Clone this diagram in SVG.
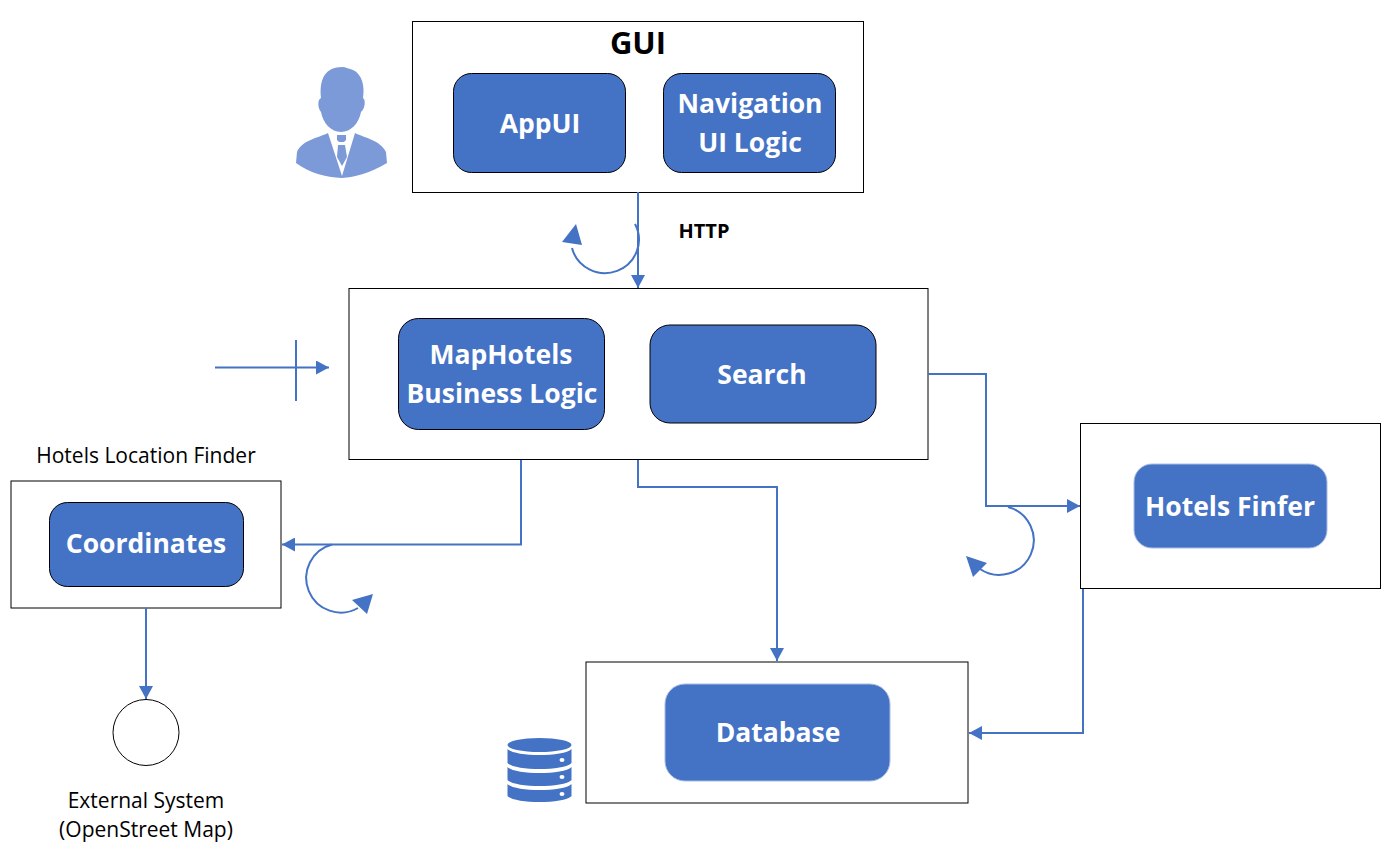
<svg xmlns="http://www.w3.org/2000/svg" width="1390" height="865" viewBox="0 0 1390 865">
<defs>
<marker id="a" markerUnits="userSpaceOnUse" markerWidth="14" markerHeight="14" refX="13" refY="7" orient="auto"><path d="M0 0L13 7L0 14Z" fill="#4472c4"/></marker>
</defs>
<style>
.box{fill:#fff;stroke:#000;stroke-width:1}
.in{fill:#4472c4;stroke:#000;stroke-width:1}
.in2{fill:#4472c4;stroke:#a9bde3;stroke-width:1}
.t{font-family:"Open Sans","Noto Sans",sans-serif;font-weight:700;font-size:26.500px;fill:#fff;text-anchor:middle}
.l{font-family:"Open Sans","Noto Sans",sans-serif;font-size:21px;fill:#000;text-anchor:middle}
.c{fill:none;stroke:#4472c4;stroke-width:2}
.ce{fill:#4472c4}
</style>
<rect width="1390" height="865" fill="#fff"/>
<g id="gui"><rect class="box" x="412.500" y="21.500" width="451" height="171"/><text x="638" y="54" font-family="'Open Sans','Noto Sans',sans-serif" font-weight="700" font-size="31" text-anchor="middle">GUI</text></g>
<g id="appui"><rect class="in" x="453.500" y="73.500" width="172" height="99" rx="18"/><text class="t" x="540" y="133">AppUI</text></g>
<g id="nav"><rect class="in" x="663.500" y="73.500" width="172" height="99" rx="18"/><text class="t" x="750" y="113">Navigation</text><text class="t" x="750" y="152">UI Logic</text></g>
<g id="user" fill="#7c9ad8">
<path d="M321 98C319 78 326 67 342 67C346 67 349 69 353 70C362 74 365 86 363 98C366 100 365 109 361 112C359 123 351 132 341 132C331 132 323 123 321 112C318 109 317 100 321 98Z"/>
<path d="M328 133L342 176L355 133C365 138 380 140 386 152L387 163C370 173 355 177 342 178C325 177 310 173 296 163L297 152C302 140 318 138 328 133Z"/>
<path d="M337 135H346V140L344 142H339L337 140Z"/>
<path d="M338 145H345L347 157L342 166L337 157Z"/>
</g>
<g id="logic"><rect class="box" x="349" y="288.500" width="579" height="171"/></g>
<g id="maphotels"><rect class="in" x="398.500" y="318.500" width="206" height="111" rx="20"/><text class="t" x="501" y="364">MapHotels</text><text class="t" x="502" y="403">Business Logic</text></g>
<g id="search"><rect class="in" x="650" y="325" width="226" height="98" rx="20"/><text class="t" x="762" y="384">Search</text></g>
<g id="finder-label"><text class="l" x="146" y="463">Hotels Location Finder</text></g>
<g id="locfinder"><rect class="box" x="11" y="481" width="270" height="127"/></g>
<g id="coordinates"><rect class="in" x="49.500" y="502.500" width="194" height="84" rx="18"/><text class="t" x="146" y="553">Coordinates</text></g>
<g id="hotelsbox"><rect class="box" x="1080.500" y="423.500" width="300" height="165"/></g>
<g id="hotels"><rect class="in2" x="1134" y="464" width="193" height="84" rx="18"/><text class="t" x="1230" y="516">Hotels Finfer</text></g>
<g id="dbbox"><rect class="box" x="586" y="662" width="382" height="141"/></g>
<g id="database"><rect class="in2" x="665" y="684" width="225" height="97" rx="20"/><text class="t" x="778" y="742">Database</text></g>
<g id="dbicon" fill="#4472c4">
<ellipse cx="539.500" cy="745" rx="32" ry="7"/>
<path d="M507.500 749C515 757 564 757 571.500 749V763C564 771 515 771 507.500 763Z"/>
<path d="M507.500 767C515 775 564 775 571.500 767V780C564 788 515 788 507.500 780Z"/>
<path d="M507.500 784C515 792 564 792 571.500 784V796C564 804 515 804 507.500 796Z"/>
<g fill="#fff"><ellipse cx="562" cy="760" rx="2.500" ry="2"/><ellipse cx="562" cy="777" rx="2.500" ry="2"/><ellipse cx="562" cy="794" rx="2.500" ry="2"/></g>
</g>
<g id="external"><circle cx="146" cy="732.500" r="33" fill="#fff" stroke="#000"/><text class="l" x="146" y="808">External System</text><text class="l" x="146" y="837">(OpenStreet Map)</text></g>
<g id="http"><text x="704" y="238" font-family="'Open Sans','Noto Sans',sans-serif" font-weight="700" font-size="20" text-anchor="middle">HTTP</text></g>
<g id="connectors">
<path class="c" marker-end="url(#a)" d="M638 192V288"/>
<path class="c" marker-end="url(#a)" d="M215 367.500H329"/>
<path class="c" d="M296 340V401"/>
<path class="c" marker-end="url(#a)" d="M521 460V544.500H282"/>
<path class="c" marker-end="url(#a)" d="M638 460V487H777V661"/>
<path class="c" marker-end="url(#a)" d="M928 374H986V506H1080"/>
<path class="c" marker-end="url(#a)" d="M1083 589V733H969"/>
<path class="c" marker-end="url(#a)" d="M146 608V699"/>
<path class="c" d="M635 224A34 33.500 0 1 1 572 248"/>
<path class="ce" d="M576 224L582 245L562 242Z"/>
<path class="c" d="M332 544.500A34.600 34.600 0 1 0 358 608"/>
<path class="ce" d="M373 594L352 600L367 614Z"/>
<path class="c" d="M1008 507A34.500 34.500 0 1 1 980 569"/>
<path class="ce" d="M966 556L987 563L973 577Z"/>
</g>
</svg>
